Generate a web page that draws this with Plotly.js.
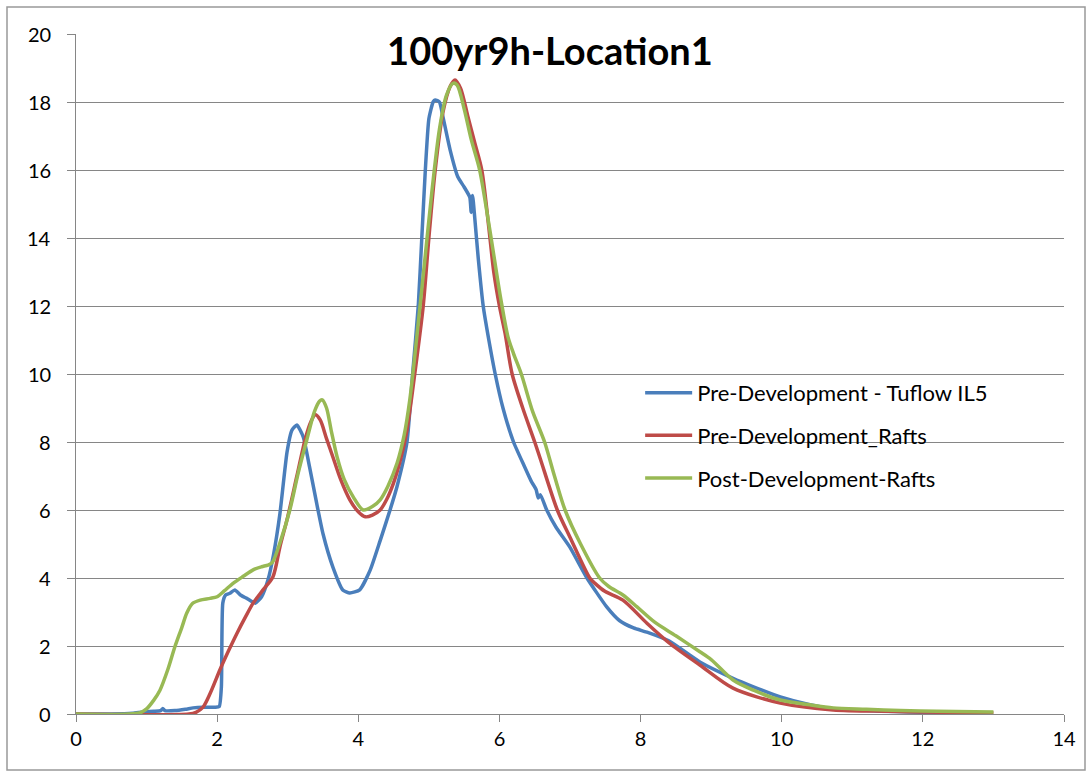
<!DOCTYPE html>
<html>
<head>
<meta charset="utf-8">
<script src="https://cdn.plot.ly/plotly-3.0.1.min.js"></script>
<style>
html,body{margin:0;padding:0;background:#fff;}
#chart{width:1089px;height:774px;}
</style>
</head>
<body>
<div id="chart"></div>
<script>
const chartTitle = "100yr9h-Location1";
const seriesNames = ["Pre-Development - Tuflow IL5", "Pre-Development_Rafts", "Post-Development-Rafts"];
const xTicks = [0, 2, 4, 6, 8, 10, 12, 14];
const yTicks = [0, 2, 4, 6, 8, 10, 12, 14, 16, 18, 20];

const tuflowX = [0, 0.5, 0.8, 0.95, 1.1, 1.2, 1.23, 1.26, 1.4, 1.55, 1.66, 1.8, 1.97, 2.03, 2.06, 2.08, 2.12, 2.18, 2.25, 2.33, 2.42, 2.54, 2.63, 2.72, 2.8, 2.89, 2.99, 3.06, 3.13, 3.22, 3.31, 3.41, 3.5, 3.64, 3.78, 3.88, 4.02, 4.17, 4.31, 4.45, 4.55, 4.69, 4.77, 4.85, 4.9, 4.95, 5.0, 5.06, 5.09, 5.15, 5.2, 5.3, 5.41, 5.5, 5.58, 5.6, 5.62, 5.65, 5.7, 5.77, 5.85, 5.94, 6.05, 6.2, 6.35, 6.45, 6.52, 6.55, 6.58, 6.67, 6.8, 7.0, 7.24, 7.52, 7.7, 7.9, 8.1, 8.4, 8.84, 9.31, 9.6, 9.98, 10.4, 10.73, 11.2, 11.6, 12.0, 12.5];
const tuflowY = [0, 0, 0.02, 0.06, 0.08, 0.1, 0.16, 0.1, 0.1, 0.14, 0.18, 0.2, 0.2, 0.22, 0.8, 3.26, 3.5, 3.55, 3.65, 3.5, 3.4, 3.26, 3.45, 3.94, 4.7, 5.9, 7.7, 8.35, 8.5, 8.15, 7.26, 6.2, 5.3, 4.32, 3.65, 3.56, 3.65, 4.24, 5.1, 6.0, 6.7, 8.0, 10.0, 12.0, 14.0, 16.0, 17.5, 18.0, 18.06, 18.0, 17.56, 16.6, 15.8, 15.5, 15.2, 14.75, 15.25, 14.6, 13.4, 12.0, 11.0, 10.0, 9.0, 8.0, 7.3, 6.85, 6.6, 6.35, 6.45, 6.0, 5.5, 4.9, 4.0, 3.15, 2.75, 2.53, 2.4, 2.15, 1.53, 1.05, 0.8, 0.5, 0.27, 0.15, 0.1, 0.07, 0.05, 0.03];

const preRaftsX = [0, 1.6, 1.7, 1.8, 1.9, 2.04, 2.16, 2.28, 2.4, 2.51, 2.65, 2.79, 2.89, 3.0, 3.13, 3.25, 3.33, 3.39, 3.46, 3.55, 3.64, 3.75, 3.88, 4.0, 4.1, 4.2, 4.31, 4.4, 4.5, 4.6, 4.69, 4.8, 4.92, 5.0, 5.09, 5.2, 5.3, 5.37, 5.45, 5.55, 5.65, 5.75, 5.85, 5.92, 6.0, 6.08, 6.18, 6.33, 6.5, 6.58, 6.82, 7.0, 7.28, 7.35, 7.5, 7.75, 8.09, 8.4, 8.84, 9.31, 9.98, 10.73, 11.5, 12.0, 13.0];
const preRaftsY = [0, 0, 0.05, 0.2, 0.6, 1.3, 1.85, 2.37, 2.85, 3.26, 3.65, 4.03, 4.92, 5.8, 7.0, 8.1, 8.6, 8.8, 8.65, 8.1, 7.56, 6.9, 6.3, 5.95, 5.8, 5.85, 6.0, 6.3, 6.8, 7.5, 8.35, 10.0, 12.0, 14.0, 16.0, 17.7, 18.45, 18.65, 18.4, 17.6, 16.8, 16.0, 14.3, 13.0, 12.0, 11.2, 10.0, 9.0, 8.0, 7.5, 6.0, 5.2, 4.0, 3.85, 3.6, 3.35, 2.67, 2.1, 1.44, 0.76, 0.32, 0.12, 0.08, 0.06, 0.03];

const postRaftsX = [0, 0.9, 1.0, 1.1, 1.19, 1.3, 1.4, 1.5, 1.57, 1.65, 1.76, 1.9, 2.0, 2.1, 2.23, 2.37, 2.51, 2.63, 2.72, 2.78, 2.9, 3.03, 3.15, 3.27, 3.38, 3.45, 3.49, 3.55, 3.62, 3.7, 3.8, 3.93, 4.07, 4.2, 4.31, 4.42, 4.55, 4.65, 4.73, 4.85, 4.95, 5.05, 5.15, 5.25, 5.34, 5.4, 5.5, 5.6, 5.72, 5.82, 5.92, 6.02, 6.12, 6.2, 6.31, 6.47, 6.64, 6.78, 6.93, 7.15, 7.42, 7.55, 7.75, 7.95, 8.2, 8.5, 8.84, 9.0, 9.31, 9.6, 9.98, 10.4, 10.73, 11.2, 11.68, 12.2, 13.0];
const postRaftsY = [0, 0.03, 0.15, 0.4, 0.7, 1.3, 1.97, 2.55, 2.97, 3.25, 3.35, 3.4, 3.45, 3.62, 3.85, 4.05, 4.24, 4.33, 4.38, 4.45, 5.1, 6.0, 7.1, 8.06, 8.9, 9.2, 9.24, 9.0, 8.3, 7.56, 6.9, 6.38, 6.0, 6.1, 6.3, 6.7, 7.38, 8.2, 9.24, 11.5, 13.5, 15.5, 17.2, 18.2, 18.55, 18.5, 17.8, 16.9, 16.0, 14.8, 13.5, 12.2, 11.1, 10.6, 10.0, 8.9, 8.0, 7.0, 6.0, 5.0, 4.0, 3.75, 3.5, 3.15, 2.7, 2.3, 1.83, 1.6, 1.0, 0.7, 0.41, 0.27, 0.18, 0.14, 0.1, 0.08, 0.06];

const colors = ["#4A7EBB", "#BE4B48", "#98B954"];
const fontFamily = "Lato, 'Open Sans', sans-serif";

const traces = [
  {x: tuflowX, y: tuflowY, name: seriesNames[0], legendgroup: "a", type: "scatter", mode: "lines",
   line: {color: colors[0], width: 3.5, shape: "spline", smoothing: 0.5}},
  {x: preRaftsX, y: preRaftsY, name: seriesNames[1], legendgroup: "b", type: "scatter", mode: "lines",
   line: {color: colors[1], width: 3.5, shape: "spline", smoothing: 0.8}},
  {x: postRaftsX, y: postRaftsY, name: seriesNames[2], legendgroup: "c", type: "scatter", mode: "lines",
   line: {color: colors[2], width: 3.5, shape: "spline", smoothing: 0.8}}
];

const yLabelAnnotations = yTicks.map(v => ({
  text: String(v), xref: "paper", yref: "y", x: -0.023, y: v, xanchor: "right", yanchor: "middle",
  showarrow: false, font: {family: fontFamily, size: 20, color: "#000"}
}));

const layout = {
  width: 1089, height: 774,
  margin: {l: 76, r: 25, t: 34, b: 60},
  paper_bgcolor: "#ffffff", plot_bgcolor: "#ffffff",
  font: {family: fontFamily, size: 20, color: "#000"},
  title: {text: "<b>" + chartTitle + "</b>", font: {family: fontFamily, size: 38, color: "#000"},
          x: 0.505, xref: "container", xanchor: "center", y: 0.933, yref: "container", yanchor: "middle"},
  showlegend: true,
  legend: {x: 0.571, y: 0.503, xanchor: "left", yanchor: "top", bgcolor: "rgba(0,0,0,0)",
           font: {family: fontFamily, size: 22, color: "#000"}, tracegroupgap: 11, traceorder: "grouped", itemwidth: 47},
  xaxis: {range: [0, 14], tickvals: xTicks, ticktext: xTicks.map(String), showgrid: false, zeroline: false,
          showline: true, linecolor: "#868686", linewidth: 1, ticks: "outside", ticklen: 7, tickcolor: "#868686",
          tickfont: {family: fontFamily, size: 20, color: "#000"}, fixedrange: true},
  yaxis: {range: [0, 20], tickvals: yTicks, showticklabels: false, showgrid: true, gridcolor: "#868686", gridwidth: 1,
          zeroline: false, showline: true, linecolor: "#868686", linewidth: 1, ticks: "outside", ticklen: 8, tickcolor: "#868686",
          fixedrange: true},
  annotations: yLabelAnnotations,
  shapes: [{type: "rect", xref: "paper", yref: "paper",
            x0: (7 - 76) / 988, x1: (1085 - 76) / 988, y0: (714 - 770) / 680, y1: (714 - 7) / 680,
            line: {color: "#999999", width: 1.5}, fillcolor: "rgba(0,0,0,0)", layer: "below"}]
};

Plotly.newPlot("chart", traces, layout, {displayModeBar: false, staticPlot: true});
</script>
</body>
</html>
